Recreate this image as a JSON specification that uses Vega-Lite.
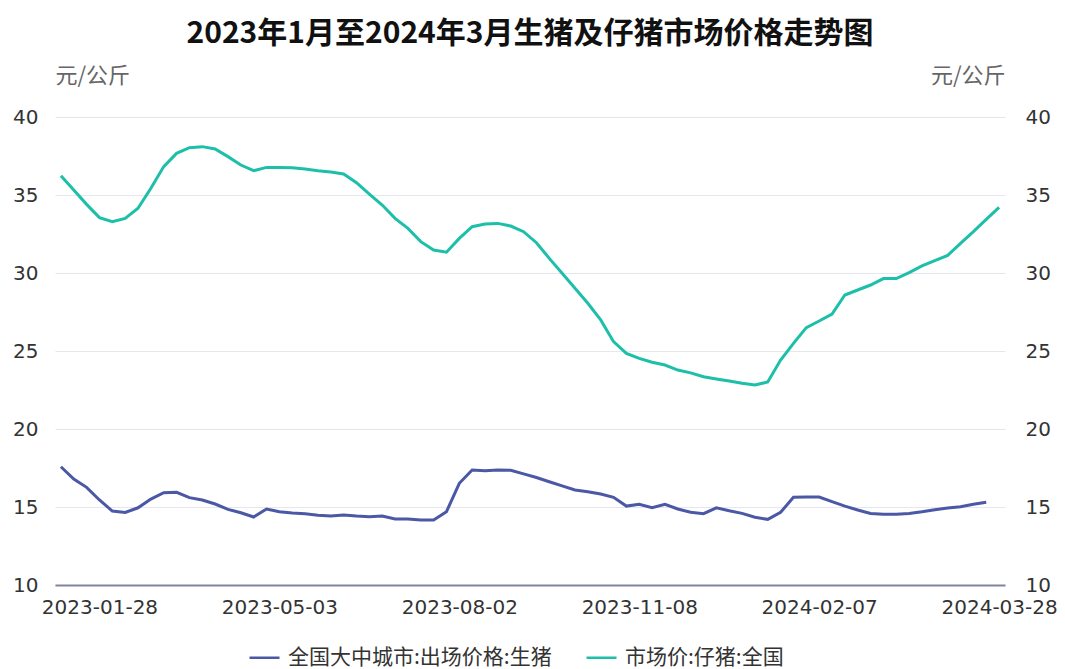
{
  "$schema": "https://vega.github.io/schema/vega-lite/v6.json",
  "autosize": {"type": "none"},
  "width": 950,
  "height": 468,
  "padding": {"left": 55, "top": 117, "right": 60, "bottom": 84},
  "background": "white",
  "config": {"font": "Noto Sans CJK SC", "view": {"stroke": null}},
  "title": {"text": "2023年1月至2024年3月生猪及仔猪市场价格走势图", "fontSize": 30, "fontWeight": "bold", "color": "#111111", "anchor": "middle", "offset": 15},
  "datasets": {
    "pig": [
      {"d": "2023-01-07", "v": 17.58}, {"d": "2023-01-14", "v": 16.79}, {"d": "2023-01-21", "v": 16.26}, {"d": "2023-01-28", "v": 15.45},
      {"d": "2023-02-04", "v": 14.74}, {"d": "2023-02-11", "v": 14.65}, {"d": "2023-02-18", "v": 14.95}, {"d": "2023-02-25", "v": 15.51},
      {"d": "2023-03-04", "v": 15.92}, {"d": "2023-03-11", "v": 15.94}, {"d": "2023-03-18", "v": 15.60}, {"d": "2023-03-25", "v": 15.45},
      {"d": "2023-04-01", "v": 15.19}, {"d": "2023-04-08", "v": 14.85}, {"d": "2023-04-15", "v": 14.63}, {"d": "2023-04-22", "v": 14.36},
      {"d": "2023-04-29", "v": 14.87}, {"d": "2023-05-03", "v": 14.70}, {"d": "2023-05-10", "v": 14.62}, {"d": "2023-05-17", "v": 14.57},
      {"d": "2023-05-24", "v": 14.47}, {"d": "2023-05-31", "v": 14.42}, {"d": "2023-06-07", "v": 14.49}, {"d": "2023-06-14", "v": 14.42},
      {"d": "2023-06-21", "v": 14.38}, {"d": "2023-06-28", "v": 14.42}, {"d": "2023-07-05", "v": 14.23}, {"d": "2023-07-12", "v": 14.23},
      {"d": "2023-07-19", "v": 14.17}, {"d": "2023-07-26", "v": 14.17}, {"d": "2023-07-29", "v": 14.70}, {"d": "2023-08-02", "v": 16.52},
      {"d": "2023-08-09", "v": 17.37}, {"d": "2023-08-16", "v": 17.33}, {"d": "2023-08-23", "v": 17.37}, {"d": "2023-08-30", "v": 17.35},
      {"d": "2023-09-06", "v": 17.12}, {"d": "2023-09-13", "v": 16.89}, {"d": "2023-09-20", "v": 16.62}, {"d": "2023-09-27", "v": 16.35},
      {"d": "2023-10-04", "v": 16.09}, {"d": "2023-10-11", "v": 15.98}, {"d": "2023-10-18", "v": 15.83}, {"d": "2023-10-25", "v": 15.62},
      {"d": "2023-11-01", "v": 15.06}, {"d": "2023-11-08", "v": 15.17}, {"d": "2023-11-15", "v": 14.95}, {"d": "2023-11-22", "v": 15.17},
      {"d": "2023-11-29", "v": 14.87}, {"d": "2023-12-06", "v": 14.66}, {"d": "2023-12-13", "v": 14.57}, {"d": "2023-12-20", "v": 14.95},
      {"d": "2023-12-27", "v": 14.76}, {"d": "2024-01-03", "v": 14.59}, {"d": "2024-01-10", "v": 14.34}, {"d": "2024-01-17", "v": 14.21},
      {"d": "2024-01-24", "v": 14.66}, {"d": "2024-01-31", "v": 15.62}, {"d": "2024-02-04", "v": 15.64}, {"d": "2024-02-07", "v": 15.64},
      {"d": "2024-02-10", "v": 15.34}, {"d": "2024-02-14", "v": 15.06}, {"d": "2024-02-17", "v": 14.81}, {"d": "2024-02-21", "v": 14.59},
      {"d": "2024-02-24", "v": 14.53}, {"d": "2024-02-28", "v": 14.53}, {"d": "2024-03-02", "v": 14.59}, {"d": "2024-03-06", "v": 14.70},
      {"d": "2024-03-09", "v": 14.83}, {"d": "2024-03-13", "v": 14.94}, {"d": "2024-03-16", "v": 15.02}, {"d": "2024-03-20", "v": 15.17},
      {"d": "2024-03-24", "v": 15.30}
    ],
    "piglet": [
      {"d": "2023-01-07", "v": 36.24}, {"d": "2023-01-14", "v": 35.32}, {"d": "2023-01-21", "v": 34.40}, {"d": "2023-01-28", "v": 33.55},
      {"d": "2023-02-04", "v": 33.29}, {"d": "2023-02-11", "v": 33.50}, {"d": "2023-02-18", "v": 34.15}, {"d": "2023-02-25", "v": 35.43},
      {"d": "2023-03-04", "v": 36.82}, {"d": "2023-03-11", "v": 37.67}, {"d": "2023-03-18", "v": 38.03}, {"d": "2023-03-25", "v": 38.10},
      {"d": "2023-04-01", "v": 37.95}, {"d": "2023-04-08", "v": 37.46}, {"d": "2023-04-15", "v": 36.92}, {"d": "2023-04-22", "v": 36.56},
      {"d": "2023-04-29", "v": 36.77}, {"d": "2023-05-03", "v": 36.77}, {"d": "2023-05-10", "v": 36.75}, {"d": "2023-05-17", "v": 36.67},
      {"d": "2023-05-24", "v": 36.56}, {"d": "2023-05-31", "v": 36.47}, {"d": "2023-06-07", "v": 36.35}, {"d": "2023-06-14", "v": 35.79},
      {"d": "2023-06-21", "v": 35.05}, {"d": "2023-06-28", "v": 34.36}, {"d": "2023-07-05", "v": 33.50}, {"d": "2023-07-12", "v": 32.86},
      {"d": "2023-07-19", "v": 32.01}, {"d": "2023-07-26", "v": 31.47}, {"d": "2023-07-29", "v": 31.33}, {"d": "2023-08-02", "v": 32.22},
      {"d": "2023-08-09", "v": 32.97}, {"d": "2023-08-16", "v": 33.14}, {"d": "2023-08-23", "v": 33.18}, {"d": "2023-08-30", "v": 33.01},
      {"d": "2023-09-06", "v": 32.65}, {"d": "2023-09-13", "v": 31.94}, {"d": "2023-09-20", "v": 30.94}, {"d": "2023-09-27", "v": 29.98},
      {"d": "2023-10-04", "v": 29.02}, {"d": "2023-10-11", "v": 28.06}, {"d": "2023-10-18", "v": 26.99}, {"d": "2023-10-25", "v": 25.60},
      {"d": "2023-11-01", "v": 24.85}, {"d": "2023-11-08", "v": 24.53}, {"d": "2023-11-15", "v": 24.28}, {"d": "2023-11-22", "v": 24.10},
      {"d": "2023-11-29", "v": 23.78}, {"d": "2023-12-06", "v": 23.60}, {"d": "2023-12-13", "v": 23.35}, {"d": "2023-12-20", "v": 23.21},
      {"d": "2023-12-27", "v": 23.08}, {"d": "2024-01-03", "v": 22.93}, {"d": "2024-01-10", "v": 22.82}, {"d": "2024-01-17", "v": 23.01},
      {"d": "2024-01-24", "v": 24.42}, {"d": "2024-01-31", "v": 25.49}, {"d": "2024-02-04", "v": 26.50}, {"d": "2024-02-07", "v": 26.92},
      {"d": "2024-02-10", "v": 27.37}, {"d": "2024-02-14", "v": 28.59}, {"d": "2024-02-17", "v": 28.91}, {"d": "2024-02-21", "v": 29.23},
      {"d": "2024-02-24", "v": 29.64}, {"d": "2024-02-28", "v": 29.64}, {"d": "2024-03-02", "v": 30.02}, {"d": "2024-03-06", "v": 30.45},
      {"d": "2024-03-09", "v": 30.79}, {"d": "2024-03-13", "v": 31.13}, {"d": "2024-03-16", "v": 31.90}, {"d": "2024-03-20", "v": 32.65},
      {"d": "2024-03-24", "v": 33.44}, {"d": "2024-03-28", "v": 34.21}
    ]
  },
  "encoding": {
    "x": {
      "field": "d", "type": "ordinal",
      "scale": {"type": "point", "padding": 0.46},
      "axis": {
        "values": ["2023-01-28", "2023-05-03", "2023-08-02", "2023-11-08", "2024-02-07", "2024-03-28"],
        "title": null, "labelAngle": 0, "labelFont": "DejaVu Sans", "labelFontSize": 20, "labelColor": "#333333",
        "ticks": false, "grid": false, "domain": true, "domainColor": "#80859a", "domainWidth": 2, "labelPadding": 12
      }
    }
  },
  "layer": [
    {
      "data": {"name": "pig"},
      "mark": {"type": "line", "strokeWidth": 3, "interpolate": "linear"},
      "encoding": {
        "y": {
          "field": "v", "type": "quantitative",
          "scale": {"domain": [10, 40], "nice": false, "zero": false},
          "axis": {
            "orient": "left", "title": "元/公斤", "titleAngle": 0, "titleAlign": "left", "titleBaseline": "middle",
            "titleX": 0, "titleY": -42, "titleFontSize": 22, "titleFontWeight": "normal", "titleColor": "#666666",
            "values": [10, 15, 20, 25, 30, 35, 40], "labelFont": "DejaVu Sans", "labelFontSize": 20, "labelColor": "#333333", "labelPadding": 17,
            "ticks": false, "domain": false, "grid": true, "gridColor": "#e6e6ef", "gridWidth": 1
          }
        },
        "color": {
          "datum": "全国大中城市:出场价格:生猪",
          "type": "nominal",
          "scale": {"domain": ["全国大中城市:出场价格:生猪", "市场价:仔猪:全国"], "range": ["#4a58a5", "#1dbfa9"]},
          "legend": {
            "orient": "none", "legendX": 193, "legendY": 524, "direction": "horizontal", "title": null,
            "symbolType": "stroke", "symbolSize": 900, "symbolStrokeWidth": 2.5, "labelFontSize": 21, "labelLimit": 0,
            "labelColor": "#333333", "columnPadding": 29, "labelOffset": 7
          }
        }
      }
    },
    {
      "data": {"name": "piglet"},
      "mark": {"type": "line", "strokeWidth": 3, "interpolate": "linear"},
      "encoding": {
        "y": {
          "field": "v", "type": "quantitative",
          "scale": {"domain": [10, 40], "nice": false, "zero": false},
          "axis": {
            "orient": "right", "title": "元/公斤", "titleAngle": 0, "titleAlign": "right", "titleBaseline": "middle",
            "titleX": 0, "titleY": -42, "titleFontSize": 22, "titleFontWeight": "normal", "titleColor": "#666666",
            "values": [10, 15, 20, 25, 30, 35, 40], "labelFont": "DejaVu Sans", "labelFontSize": 20, "labelColor": "#333333", "labelPadding": 20,
            "ticks": false, "domain": false, "grid": false
          }
        },
        "color": {"datum": "市场价:仔猪:全国", "type": "nominal"}
      }
    }
  ],
  "resolve": {"axis": {"y": "independent"}}
}
